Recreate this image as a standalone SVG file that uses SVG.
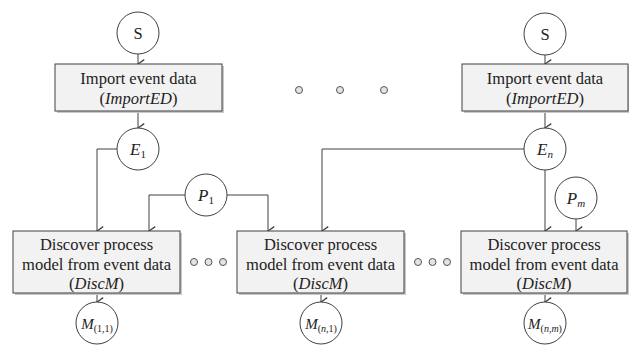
<svg xmlns="http://www.w3.org/2000/svg" width="629" height="345" viewBox="0 0 629 345">
<defs>
<marker id="arr" markerWidth="10" markerHeight="10" refX="4" refY="7" orient="auto" markerUnits="userSpaceOnUse" viewBox="0 0 8 8">
<path d="M0.5,2 L4,7 L7.5,2" fill="none" stroke="#404040" stroke-width="1"/>
</marker>
</defs>
<style>
.box{fill:#f2f2f2;stroke:#404040;stroke-width:1}
.shadow{fill:#c8c8c8}
.node{fill:#fff;stroke:#404040;stroke-width:1}
.dot{fill:#e4e4e4;stroke:#555;stroke-width:1}
.t{font-family:"Liberation Serif","Times New Roman",serif;font-size:16.5px;fill:#222;text-anchor:middle}
.m{font-family:"Liberation Serif","Times New Roman",serif;font-style:italic;font-size:17px;fill:#222;text-anchor:middle}
.sub{font-size:11px}
.up{font-style:normal}
.c{fill:none;stroke:#404040;stroke-width:1}
</style>
<rect width="629" height="345" fill="#fff"/>
<g id="connectors">
<path class="c" d="M138,53 V64" marker-end="url(#arr)"/>
<path class="c" d="M138,111 V128" marker-end="url(#arr)"/>
<path class="c" d="M117,149 H97 V231" marker-end="url(#arr)"/>
<path class="c" d="M185,195 H149 V231" marker-end="url(#arr)"/>
<path class="c" d="M227,195 H268 V231" marker-end="url(#arr)"/>
<path class="c" d="M97,293 V302" marker-end="url(#arr)"/>
<path class="c" d="M545,55 V64" marker-end="url(#arr)"/>
<path class="c" d="M545,111 V128" marker-end="url(#arr)"/>
<path class="c" d="M524,149 H322 V231" marker-end="url(#arr)"/>
<path class="c" d="M545,170 V231" marker-end="url(#arr)"/>
<path class="c" d="M576,219 V231" marker-end="url(#arr)"/>
<path class="c" d="M321,293 V302" marker-end="url(#arr)"/>
<path class="c" d="M545,293 V302" marker-end="url(#arr)"/>
</g>
<g id="S1"><circle class="node" cx="138" cy="33" r="21"/><text class="t" x="138" y="39">S</text></g>
<g id="import1">
<rect class="shadow" x="57" y="66" width="167" height="47"/>
<rect class="box" x="55" y="64" width="167" height="47"/>
<text class="t" x="138.5" y="84">Import event data</text>
<text class="t" x="138.5" y="104">(<tspan font-style="italic">ImportED</tspan>)</text>
</g>
<g id="E1"><circle class="node" cx="138" cy="149" r="21"/><text class="m" x="138" y="155">E<tspan class="sub up" dy="3">1</tspan></text></g>
<g id="S2"><circle class="node" cx="545" cy="34" r="21"/><text class="t" x="545" y="40">S</text></g>
<g id="import2">
<rect class="shadow" x="464" y="66" width="166" height="47"/>
<rect class="box" x="462" y="64" width="166" height="47"/>
<text class="t" x="545" y="84">Import event data</text>
<text class="t" x="545" y="104">(<tspan font-style="italic">ImportED</tspan>)</text>
</g>
<g id="En"><circle class="node" cx="545" cy="149" r="21"/><text class="m" x="545" y="155">E<tspan class="sub" dy="3">n</tspan></text></g>
<g id="topdots">
<circle class="dot" cx="299" cy="90" r="3.5"/>
<circle class="dot" cx="340" cy="90" r="3.5"/>
<circle class="dot" cx="384" cy="90" r="3.5"/>
</g>
<g id="P1"><circle class="node" cx="206" cy="195" r="21"/><text class="m" x="206" y="201">P<tspan class="sub up" dy="3">1</tspan></text></g>
<g id="Pm"><circle class="node" cx="576" cy="198" r="21"/><text class="m" x="576" y="204">P<tspan class="sub" dy="3">m</tspan></text></g>
<g id="disc1">
<rect class="shadow" x="15" y="233" width="167" height="62"/>
<rect class="box" x="13" y="231" width="167" height="62"/>
<text class="t" x="96.5" y="250">Discover process</text>
<text class="t" x="96.5" y="270">model from event data</text>
<text class="t" x="96.5" y="289">(<tspan font-style="italic">DiscM</tspan>)</text>
</g>
<g id="disc2">
<rect class="shadow" x="239" y="233" width="167" height="62"/>
<rect class="box" x="237" y="231" width="167" height="62"/>
<text class="t" x="320.5" y="250">Discover process</text>
<text class="t" x="320.5" y="270">model from event data</text>
<text class="t" x="320.5" y="289">(<tspan font-style="italic">DiscM</tspan>)</text>
</g>
<g id="disc3">
<rect class="shadow" x="463" y="233" width="166" height="62"/>
<rect class="box" x="461" y="231" width="166" height="62"/>
<text class="t" x="544" y="250">Discover process</text>
<text class="t" x="544" y="270">model from event data</text>
<text class="t" x="544" y="289">(<tspan font-style="italic">DiscM</tspan>)</text>
</g>
<g id="dots1">
<circle class="dot" cx="194" cy="262" r="3.5"/>
<circle class="dot" cx="208.5" cy="262" r="3.5"/>
<circle class="dot" cx="223" cy="262" r="3.5"/>
</g>
<g id="dots2">
<circle class="dot" cx="418" cy="262" r="3.5"/>
<circle class="dot" cx="432.5" cy="262" r="3.5"/>
<circle class="dot" cx="447" cy="262" r="3.5"/>
</g>
<g id="M11"><circle class="node" cx="97" cy="323" r="21"/><text class="m" x="97" y="329" style="font-size:15px">M<tspan class="sub up" dy="3" style="font-size:10px">(1,1)</tspan></text></g>
<g id="Mn1"><circle class="node" cx="321" cy="323" r="21"/><text class="m" x="321" y="329" style="font-size:15px">M<tspan class="sub up" dy="3" style="font-size:10px">(<tspan font-style="italic">n</tspan>,1)</tspan></text></g>
<g id="Mnm"><circle class="node" cx="545" cy="323" r="21"/><text class="m" x="545" y="329" style="font-size:15px">M<tspan class="sub up" dy="3" style="font-size:10px">(<tspan font-style="italic">n</tspan>,<tspan font-style="italic">m</tspan>)</tspan></text></g>
</svg>
